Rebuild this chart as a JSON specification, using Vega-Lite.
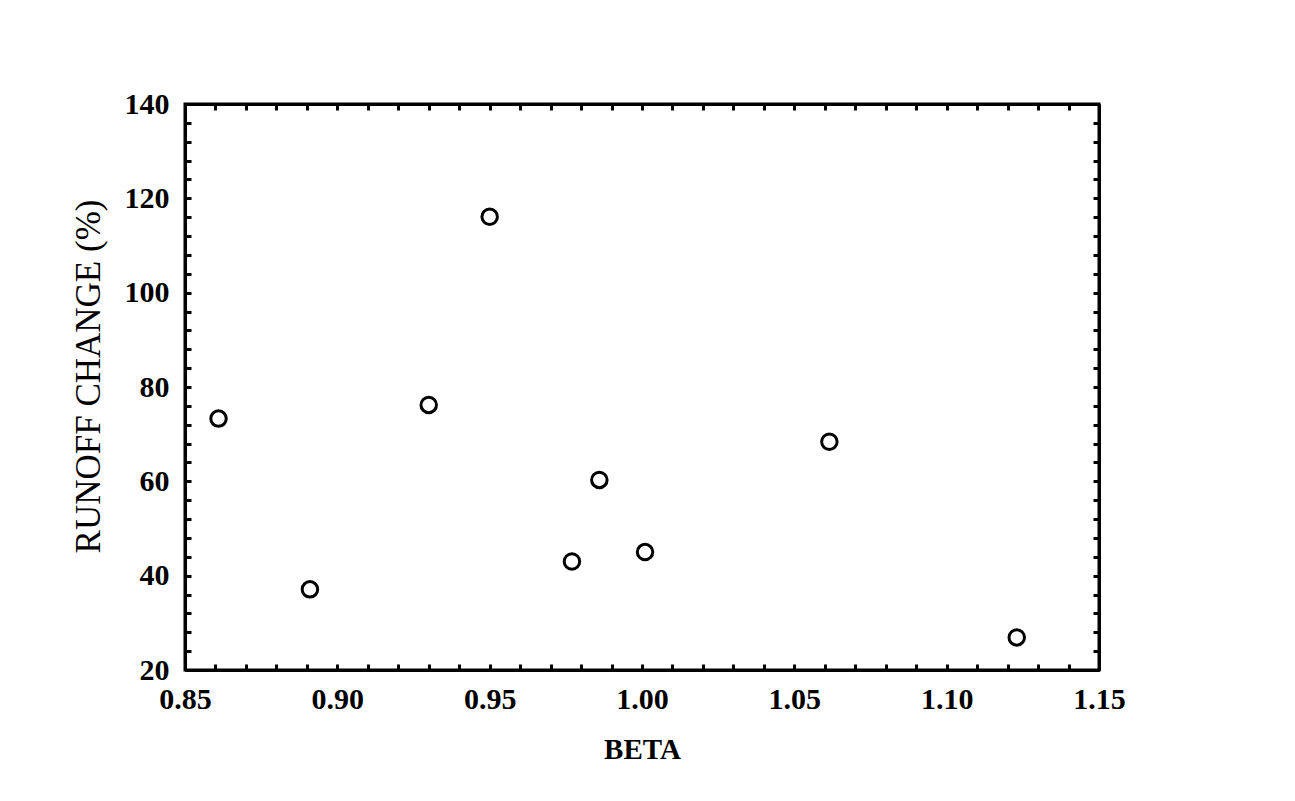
{
  "$schema": "https://vega.github.io/schema/vega-lite/v6.json",
  "width": 914,
  "height": 566,
  "autosize": "none",
  "padding": {"left": 185, "top": 104, "right": 196, "bottom": 131},
  "background": "white",
  "config": {
    "view": {"stroke": "black", "strokeWidth": 3},
    "font": "Liberation Serif",
    "axis": {
      "grid": false,
      "domainColor": "black",
      "domainWidth": 3,
      "tickColor": "black",
      "tickWidth": 3,
      "tickSize": -6,
      "labelFont": "Liberation Serif",
      "labelFontSize": 30,
      "labelFontWeight": "bold",
      "labelColor": "black",
      "labelFlush": false,
      "labelOverlap": false,
      "titleColor": "black",
      "titleFont": "Liberation Serif"
    }
  },
  "data": {
    "values": [
      {"beta": 0.861, "runoff": 73.3},
      {"beta": 0.891, "runoff": 37.1},
      {"beta": 0.930, "runoff": 76.2},
      {"beta": 0.950, "runoff": 116.1},
      {"beta": 0.977, "runoff": 43.0},
      {"beta": 0.986, "runoff": 60.3},
      {"beta": 1.001, "runoff": 45.0},
      {"beta": 1.0615, "runoff": 68.4},
      {"beta": 1.123, "runoff": 26.9}
    ]
  },
  "layer": [
    {
      "mark": {"type": "point", "shape": "circle", "size": 240, "strokeWidth": 3, "color": "black", "filled": false, "opacity": 1},
      "encoding": {
        "x": {
          "field": "beta", "type": "quantitative",
          "scale": {"domain": [0.85, 1.15], "nice": false, "zero": false},
          "axis": {
            "orient": "bottom",
            "title": "BETA",
            "titleFontSize": 29,
            "titleFontWeight": "bold",
            "titleBaseline": "alphabetic",
            "titleY": 88,
            "values": [0.85,0.86,0.87,0.88,0.89,0.90,0.91,0.92,0.93,0.94,0.95,0.96,0.97,0.98,0.99,1.00,1.01,1.02,1.03,1.04,1.05,1.06,1.07,1.08,1.09,1.10,1.11,1.12,1.13,1.14,1.15],
            "labelExpr": "round(datum.value*100) % 5 == 0 ? format(datum.value, '.2f') : ''",
            "labelPadding": 20
          }
        },
        "y": {
          "field": "runoff", "type": "quantitative",
          "scale": {"domain": [20, 140], "nice": false, "zero": false},
          "axis": {
            "orient": "left",
            "title": "RUNOFF CHANGE (%)",
            "titleFontSize": 35,
            "titleFontWeight": "normal",
            "titleAngle": -90,
            "titleBaseline": "alphabetic",
            "titleAlign": "center",
            "titleX": -86,
            "titleY": 272,
            "values": [20,24,28,32,36,40,44,48,52,56,60,64,68,72,76,80,84,88,92,96,100,104,108,112,116,120,124,128,132,136,140],
            "labelExpr": "datum.value % 20 == 0 ? datum.label : ''",
            "labelPadding": 22
          }
        }
      }
    },
    {
      "mark": {"type": "point", "opacity": 0},
      "encoding": {
        "x": {
          "field": "beta", "type": "quantitative",
          "scale": {"domain": [0.85, 1.15], "nice": false, "zero": false},
          "axis": {
            "orient": "top", "title": null, "labels": false,
            "values": [0.85,0.86,0.87,0.88,0.89,0.90,0.91,0.92,0.93,0.94,0.95,0.96,0.97,0.98,0.99,1.00,1.01,1.02,1.03,1.04,1.05,1.06,1.07,1.08,1.09,1.10,1.11,1.12,1.13,1.14,1.15]
          }
        },
        "y": {
          "field": "runoff", "type": "quantitative",
          "scale": {"domain": [20, 140], "nice": false, "zero": false},
          "axis": {
            "orient": "right", "title": null, "labels": false,
            "values": [20,24,28,32,36,40,44,48,52,56,60,64,68,72,76,80,84,88,92,96,100,104,108,112,116,120,124,128,132,136,140]
          }
        }
      }
    }
  ],
  "resolve": {"axis": {"x": "independent", "y": "independent"}}
}
